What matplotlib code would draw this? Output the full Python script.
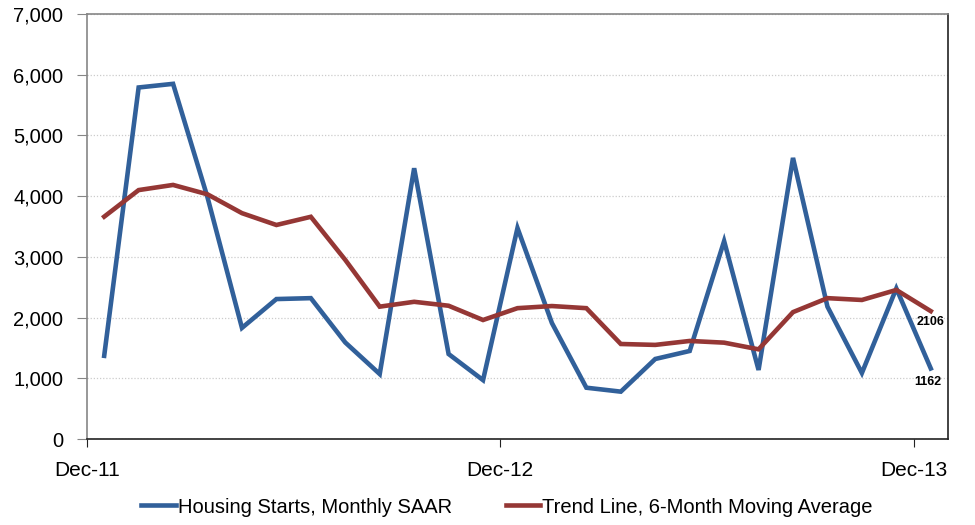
import numpy as np
import matplotlib.pyplot as plt

plt.rcParams['font.family'] = ['Liberation Sans', 'DejaVu Sans']

# monthly data Dec-11 .. Dec-13
months = ['Dec-11', 'Jan-12', 'Feb-12', 'Mar-12', 'Apr-12', 'May-12', 'Jun-12',
          'Jul-12', 'Aug-12', 'Sep-12', 'Oct-12', 'Nov-12', 'Dec-12', 'Jan-13',
          'Feb-13', 'Mar-13', 'Apr-13', 'May-13', 'Jun-13', 'Jul-13', 'Aug-13',
          'Sep-13', 'Oct-13', 'Nov-13', 'Dec-13']
starts = [1370, 5790, 5850, 3980, 1830, 2305, 2320, 1590, 1070, 4460, 1400, 970,
          3475, 1910, 845, 780, 1318, 1450, 3260, 1137, 4630, 2180, 1087, 2480, 1162]
trend = [3662, 4100, 4185, 4030, 3720, 3525, 3660, 2950, 2180, 2260, 2195, 1960,
         2155, 2190, 2155, 1565, 1550, 1615, 1587, 1477, 2090, 2320, 2290, 2455, 2106]

tick_labels = ['Dec-11', 'Dec-12', 'Dec-13']

blue = '#31609a'
red = '#953735'

fig = plt.figure(figsize=(9.75, 5.25), dpi=100)
ax = fig.add_axes([0.0892, 0.1638, 0.8831, 0.8095])

x = np.arange(len(months))
ax.plot(x, starts, color=blue, lw=3.3, label='Housing Starts, Monthly SAAR',
        solid_joinstyle='miter')
ax.plot(x, trend, color=red, lw=3.3, label='Trend Line, 6-Month Moving Average',
        solid_joinstyle='miter')

# end labels
ax.annotate(str(trend[-1]), (x[-1], trend[-1]), xytext=(0, -8),
            textcoords='offset points', fontsize=9, fontweight='bold',
            ha='center', va='center')
ax.annotate(str(starts[-1]), (x[-1], starts[-1]), xytext=(-2, -9.5),
            textcoords='offset points', fontsize=9, fontweight='bold',
            ha='center', va='center')

ax.set_xlim(-0.5, len(months) - 0.5)
ax.set_ylim(0, 7000)
ax.set_yticks(np.arange(0, 7001, 1000))
ax.set_yticklabels(['{:,}'.format(v) for v in range(0, 7001, 1000)])
ax.set_xticks([-0.5, 11.5, 23.5])
ax.set_xticklabels(tick_labels)

ax.grid(axis='y', color='#cccccc', linestyle=(0, (1, 1.5)), lw=0.9)
ax.set_axisbelow(True)

ax.tick_params(axis='y', labelsize=14.5, length=7, color='#868686', pad=10)
ax.tick_params(axis='x', labelsize=15, length=6, color='#222222', pad=10)

ax.spines['left'].set_color('#868686')
ax.spines['top'].set_color('#868686')
ax.spines['right'].set_color('#222222')
ax.spines['bottom'].set_color('#222222')
for s in ax.spines.values():
    s.set_linewidth(1.2)

ax.legend(loc='upper center', bbox_to_anchor=(0.488, -0.095), ncol=2, frameon=False,
          fontsize=14.5, handlelength=1.7, handletextpad=0.1, columnspacing=2.7)

fig.savefig('out.png', dpi=100)
